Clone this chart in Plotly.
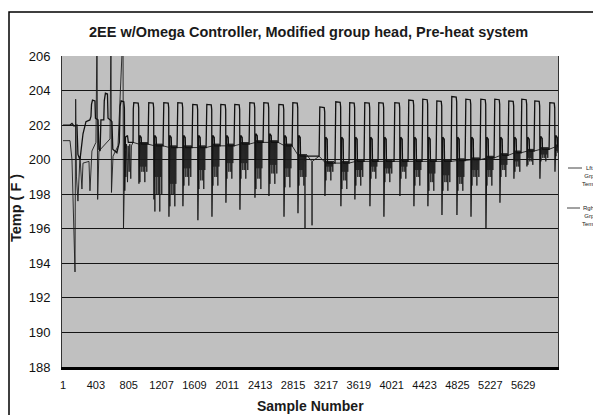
import plotly.graph_objects as go

# ---------------- axis data ----------------
x_tick_vals = [1, 403, 805, 1207, 1609, 2011, 2413, 2815, 3217, 3619, 4021, 4423, 4825, 5227, 5629]
x_tick_text = [str(v) for v in x_tick_vals]
y_tick_vals = [188, 190, 192, 194, 196, 198, 200, 202, 204, 206]
x_range = [-11, 6055]
y_range = [188, 206]

# ---------------- start-up section (read point by point) ----------------
start_lft_x = [1, 87, 111, 135, 172, 184, 209, 246, 282, 330, 343, 350, 362, 392, 398, 430,
               440, 455, 465, 500, 506, 520, 545, 552, 580, 600, 610, 660, 690, 700, 712,
               745, 752, 757, 765, 790, 800, 820]
start_lft_y = [202.0, 202.0, 202.1, 201.95, 202.0, 200.3, 200.0, 201.5, 202.2, 202.3, 202.5,
               203.2, 203.45, 203.4, 202.4, 202.3, 200.6, 200.5, 202.3, 202.3, 203.4, 203.85,
               203.8, 202.4, 202.3, 202.2, 200.6, 200.4, 201.0, 203.1, 203.4, 203.35, 203.0,
               198.2, 201.3, 201.4, 201.0, 201.0]

start_rght_x = [1, 87, 111, 148, 156, 166, 184, 209, 233, 246, 319, 331, 355, 404, 417, 425,
                441, 502, 576, 588, 594, 613, 674, 735, 741, 759, 770, 778, 790, 798, 810,
                818, 830, 838, 850]
start_rght_y = [201.1, 201.1, 200.0, 193.5, 203.5, 199.0, 197.6, 200.2, 198.3, 199.8, 199.9,
                198.2, 200.5, 201.0, 207.5, 197.7, 200.5, 200.8, 201.2, 207.5, 198.1, 200.2,
                200.8, 207.5, 196.0, 200.5, 199.0, 200.9, 198.7, 200.8, 199.3, 200.9, 198.9,
                200.8, 201.0]
start_band = 201.0

# ---------------- regular heating cycles ----------------
pulse_center = [894, 1077, 1261, 1432, 1615, 1787, 1958, 2129, 2313, 2484, 2668, 2839,
                3169, 3364, 3535, 3719, 3890, 4086, 4257, 4428, 4600, 4783, 4955, 5138,
                5309, 5480, 5639, 5798, 5982]
pulse_top = [203.3, 203.3, 203.3, 203.3, 203.2, 203.2, 203.2, 203.2, 203.3, 203.3, 203.2,
             203.3, 203.05, 203.35, 203.3, 203.3, 203.3, 203.3, 203.45, 203.5, 203.4, 203.65,
             203.5, 203.5, 203.5, 203.4, 203.5, 203.4, 203.3]
pulse_low = [198.6, 197.7, 196.7, 197.3, 196.5, 196.7, 197.5, 197.1, 197.8, 197.9, 196.7,
             196.9, 197.9, 197.3, 197.7, 197.3, 196.7, 197.9, 197.3, 197.3, 196.8, 196.8,
             196.7, 196.0, 197.5, 198.9, 199.6, 198.9, 199.3]
hook_level = [201.4, 201.4, 201.4, 201.4, 201.4, 201.4, 201.4, 201.4, 201.5, 201.5, 201.4,
              201.4, 201.3, 201.3, 201.3, 201.3, 201.3, 201.3, 201.3, 201.3, 201.3, 201.3,
              201.3, 201.3, 201.3, 201.3, 201.3, 201.35, 201.4]
band_level = [200.9, 200.8, 200.7, 200.7, 200.7, 200.8, 200.8, 200.9, 201.0, 201.0, 200.8,
              200.2, 199.8, 199.8, 199.9, 199.9, 199.9, 199.9, 199.9, 199.9, 199.9, 199.95,
              200.0, 200.1, 200.25, 200.4, 200.5, 200.6, 200.75]
dip1 = [198.7, 197.0, 197.3, 198.5, 198.3, 198.5, 198.9, 198.9, 198.3, 198.6, 198.4, 198.5,
        198.8, 198.3, 198.5, 198.9, 198.7, 198.9, 198.5, 198.2, 198.2, 198.2, 198.5, 198.5,
        199.0, 199.3, 199.7, 199.9, 200.2]
dip2 = [199.3, 198.0, 198.0, 199.0, 198.8, 199.0, 199.3, 199.4, 198.9, 199.2, 199.0, 199.0,
        199.3, 198.8, 199.0, 199.3, 199.2, 199.3, 199.0, 198.7, 198.7, 198.6, 199.0, 199.0,
        199.4, 199.6, 199.9, 200.1, 200.4]
dip3 = [199.6, 199.0, 198.6, 199.5, 199.4, 199.6, 199.8, 199.8, 199.5, 199.7, 199.5, 199.4,
        199.6, 199.3, 199.4, 199.6, 199.5, 199.6, 199.4, 199.2, 199.1, 199.0, 199.4, 199.4,
        199.7, 199.9, 200.1, 200.3, 200.5]
gap_spike_x = [2961, 3047]
gap_spike_low = [196.0, 196.2]
gap_level = 199.9

# ---------------- build the two traces ----------------
lft_x, lft_y = list(start_lft_x), list(start_lft_y)
prev = start_band
for k, c in enumerate(pulse_center):
    top, low, hk, bd = pulse_top[k], pulse_low[k], hook_level[k], band_level[k]
    lft_x += [c - 36, c - 33, c - 27, c + 27, c + 33, c + 36, c + 41, c + 46, c + 64, c + 67]
    lft_y += [prev, top - 0.35, top, top - 0.03, top - 0.3, low, hk - 0.1, hk, hk - 0.12, bd]
    prev = bd
lft_x.append(x_range[1] + 20)
lft_y.append(prev)

rght_pts = list(zip(start_rght_x, start_rght_y))
prev = start_band
for k, c in enumerate(pulse_center):
    bd = band_level[k]
    nxt = pulse_center[k + 1] if k + 1 < len(pulse_center) else c + 180
    rght_pts += [(c - 36, prev), (c + 36, bd)]
    depths = [dip1[k], dip3[k], dip2[k], dip3[k], dip2[k], dip1[k], dip3[k], dip2[k]]
    t, j = c + 48, 0
    while t < min(nxt - 46, c + 134):
        d = depths[j % len(depths)]
        rght_pts += [(t - 3, bd), (t, d), (t + 3, bd + 0.12)]
        t += 12
        j += 1
    prev = bd
for gx, gl in zip(gap_spike_x, gap_spike_low):
    rght_pts += [(gx - 3, gap_level), (gx, gl), (gx + 3, gap_level)]
rght_pts.sort(key=lambda p: p[0])
rght_x = [p[0] for p in rght_pts]
rght_y = [p[1] for p in rght_pts]

fig = go.Figure()
fig.add_trace(go.Scatter(x=rght_x, y=rght_y, mode="lines", name="Rght Grp Temp",
                         line=dict(color="#1c1c1c", width=0.9), hoverinfo="skip"))
fig.add_trace(go.Scatter(x=lft_x, y=lft_y, mode="lines", name="Lft Grp Temp",
                         line=dict(color="#111111", width=1.3), hoverinfo="skip"))

# page body adds an 8px offset; geometry below is in screenshot pixels
OFF = 8
W, H = 601 - OFF, 415 - OFF
L, R, T, B = 62 - OFF, 43, 56 - OFF, 48
PW, PH = W - L - R, H - T - B


def px(xp):
    return (xp - OFF - L) / PW


def py(yp):
    return (OFF + H - B - yp) / PH


font_family = "Liberation Sans, Arial, sans-serif"
fig.update_layout(
    width=W, height=H,
    margin=dict(l=L, r=R, t=T, b=B),
    paper_bgcolor="white", plot_bgcolor="#c0c0c0",
    showlegend=False,
    font=dict(family=font_family, color="#111111"),
)
fig.update_xaxes(range=x_range, tickmode="array", tickvals=x_tick_vals, ticktext=x_tick_text,
                 showgrid=False, zeroline=False, showline=True, linecolor="black", linewidth=3,
                 ticks="", tickfont=dict(size=11, color="#111111"), ticklabelstandoff=6)
fig.update_yaxes(range=y_range, tickmode="array", tickvals=y_tick_vals,
                 showgrid=True, gridcolor="#151515", gridwidth=1, zeroline=False,
                 showline=True, linecolor="#333333", linewidth=1, mirror=True,
                 ticks="", tickfont=dict(size=13, color="#111111"), ticklabelstandoff=8)

shapes = [
    dict(type="rect", xref="paper", yref="paper", x0=px(9), x1=px(640), y0=py(440), y1=py(12),
         line=dict(color="black", width=1.5), fillcolor="rgba(0,0,0,0)", layer="below"),
    dict(type="line", xref="paper", yref="paper", x0=px(568), x1=px(582), y0=py(168), y1=py(168),
         line=dict(color="#444", width=1)),
    dict(type="line", xref="paper", yref="paper", x0=px(567), x1=px(580), y0=py(208), y1=py(208),
         line=dict(color="#444", width=1)),
]
fig.update_layout(shapes=shapes)

annotations = [
    dict(text="<b>2EE w/Omega Controller, Modified group head, Pre-heat system</b>",
         xref="paper", yref="paper", x=px(308), y=py(32), showarrow=False,
         xanchor="center", yanchor="middle", font=dict(size=14.5, color="#1a1a1a")),
    dict(text="<b>Temp ( F )</b>", xref="paper", yref="paper", x=px(16), y=py(208),
         showarrow=False, textangle=-90, xanchor="center", yanchor="middle",
         font=dict(size=14.5, color="#1a1a1a")),
    dict(text="<b>Sample Number</b>", xref="paper", yref="paper", x=px(310), y=py(406),
         showarrow=False, xanchor="center", yanchor="middle", font=dict(size=14, color="#1a1a1a")),
    dict(text="Lft<br>Grp<br>Temp", xref="paper", yref="paper", x=px(589), y=py(163),
         showarrow=False, xanchor="center", yanchor="top", align="center",
         font=dict(size=6, color="#1a1a1a")),
    dict(text="Rght<br>Grp<br>Temp", xref="paper", yref="paper", x=px(589), y=py(203),
         showarrow=False, xanchor="center", yanchor="top", align="center",
         font=dict(size=6, color="#1a1a1a")),
]
fig.update_layout(annotations=annotations)

fig.write_html("out.html")
